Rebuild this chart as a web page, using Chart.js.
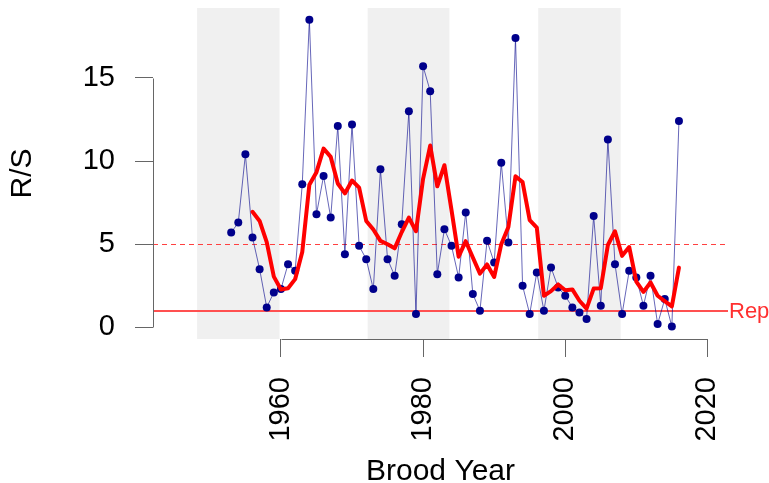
<!DOCTYPE html>
<html>
<head>
<meta charset="utf-8">
<script src="https://cdn.jsdelivr.net/npm/chart.js@4"></script>
<style>
  html, body { margin: 0; padding: 0; background: #fff; }
  #wrap { width: 769px; height: 483px; }
</style>
</head>
<body>
<div id="wrap"><canvas id="rsChart" width="769" height="483"></canvas></div>
<script>
// recruits per spawner by brood year
var broodYears = [1953, 1954, 1955, 1956, 1957, 1958, 1959, 1960, 1961, 1962,
                  1963, 1964, 1965, 1966, 1967, 1968, 1969, 1970, 1971, 1972,
                  1973, 1974, 1975, 1976, 1977, 1978, 1979, 1980, 1981, 1982,
                  1983, 1984, 1985, 1986, 1987, 1988, 1989, 1990, 1991, 1992,
                  1993, 1994, 1995, 1996, 1997, 1998, 1999, 2000, 2001, 2002,
                  2003, 2004, 2005, 2006, 2007, 2008, 2009, 2010, 2011, 2012,
                  2013, 2014, 2015, 2016];
var rsValues = [5.7, 6.3, 10.4, 5.4, 3.5, 1.2, 2.1, 2.3, 3.8, 3.4,
                8.6, 18.5, 6.8, 9.1, 6.6, 12.1, 4.4, 12.2, 4.9, 4.1,
                2.3, 9.5, 4.1, 3.1, 6.2, 13.0, 0.8, 15.7, 14.2, 3.2,
                5.9, 4.9, 3.0, 6.9, 2.0, 1.0, 5.2, 3.9, 9.9, 5.1,
                17.4, 2.5, 0.8, 3.3, 1.0, 3.6, 2.4, 1.9, 1.2, 0.9,
                0.5, 6.7, 1.3, 11.3, 3.8, 0.8, 3.4, 3.0, 1.3, 3.1,
                0.2, 1.7, 0.05, 12.4];

// 4-yr running average, starts 1956
var avgYears = broodYears.slice(3);
var avgValues = [6.95, 6.4, 5.13, 3.05, 2.28, 2.35, 2.9, 4.53, 8.58, 9.33,
                 10.75, 10.25, 8.65, 8.05, 8.83, 8.4, 6.4, 5.88, 5.2, 5.0,
                 4.75, 5.73, 6.6, 5.78, 8.93, 10.93, 8.48, 9.75, 7.05, 4.25,
                 5.18, 4.2, 3.23, 3.78, 3.03, 5.0, 6.03, 9.08, 8.73, 6.45,
                 6.0, 1.9, 2.18, 2.58, 2.23, 2.28, 1.6, 1.13, 2.33, 2.35,
                 4.95, 5.78, 4.3, 4.83, 2.75, 2.13, 2.7, 1.9, 1.58, 1.26,
                 3.59];

var yearTicks = [1960, 1980, 2000, 2020];
var rsTicks = [0, 5, 10, 15];

// shaded periods
var shadeStart = [1948.2, 1972.2, 1996.2];
var shadeEnd = [1959.8, 1983.7, 2007.8];

var repLevel = 1;
var guideLevel = 5;

var fontFamily = '"Liberation Sans", Arial, sans-serif';
Chart.defaults.font.family = fontFamily;

function toPoints(xs, ys) {
    return xs.map(function(x, i) { return { x: x, y: ys[i] }; });
}

var backdrop = {
    id: 'backdrop',
    beforeDatasetsDraw: function(chart) {
        var ctx = chart.ctx;
        var area = chart.chartArea;
        var xs = chart.scales.x, ys = chart.scales.y;
        ctx.save();
        ctx.fillStyle = '#f0f0f0';
        for (var i = 0; i < shadeStart.length; i++) {
            var x0 = xs.getPixelForValue(shadeStart[i]);
            var x1 = xs.getPixelForValue(shadeEnd[i]);
            ctx.fillRect(x0, area.top, x1 - x0, area.bottom - area.top);
        }
        ctx.strokeStyle = '#ff4040';
        ctx.lineWidth = 1;
        ctx.setLineDash([5, 4]);
        var yg = Math.round(ys.getPixelForValue(guideLevel)) + 0.5;
        ctx.beginPath();
        ctx.moveTo(area.left, yg);
        ctx.lineTo(area.right, yg);
        ctx.stroke();
        ctx.setLineDash([]);
        ctx.strokeStyle = '#ff5050';
        ctx.lineWidth = 2;
        var yr = Math.round(ys.getPixelForValue(repLevel));
        ctx.beginPath();
        ctx.moveTo(area.left, yr);
        ctx.lineTo(area.right, yr);
        ctx.stroke();
        ctx.restore();
    },
    afterDraw: function(chart) {
        var ctx = chart.ctx;
        var area = chart.chartArea;
        var xs = chart.scales.x, ys = chart.scales.y;
        ctx.save();
        // axis lines only span the tick range
        ctx.strokeStyle = '#666';
        ctx.lineWidth = 1;
        ctx.beginPath();
        var ax = Math.round(area.left) + 0.5;
        ctx.moveTo(ax, Math.round(ys.getPixelForValue(rsTicks[0])) + 0.5);
        ctx.lineTo(ax, Math.round(ys.getPixelForValue(rsTicks[rsTicks.length - 1])) + 0.5);
        var ay = Math.round(area.bottom) + 0.5;
        ctx.moveTo(Math.round(xs.getPixelForValue(yearTicks[0])) + 0.5, ay);
        ctx.lineTo(Math.round(xs.getPixelForValue(yearTicks[yearTicks.length - 1])) + 0.5, ay);
        ctx.stroke();
        // replacement label
        ctx.fillStyle = '#ff3030';
        ctx.font = '22px ' + fontFamily;
        ctx.textAlign = 'left';
        ctx.textBaseline = 'middle';
        ctx.fillText('Rep', area.right + 1, ys.getPixelForValue(repLevel) + 1);
        ctx.restore();
    }
};

var ctxRS = document.getElementById('rsChart').getContext('2d');

var rsChart = new Chart(ctxRS, {
    type: 'line',
    data: {
        datasets: [{
            label: '4-yr average',
            data: toPoints(avgYears, avgValues),
            borderColor: '#ff0000',
            borderWidth: 4,
            borderJoinStyle: 'round',
            borderCapStyle: 'round',
            pointRadius: 0,
            tension: 0,
            order: 0
        }, {
            label: 'R/S',
            data: toPoints(broodYears, rsValues),
            borderColor: 'rgba(0, 0, 139, 0.6)',
            borderWidth: 1,
            pointRadius: 4,
            pointBackgroundColor: '#00008b',
            pointBorderWidth: 0,
            tension: 0,
            order: 1
        }]
    },
    options: {
        responsive: false,
        animation: false,
        events: [],
        layout: {
            padding: { left: 0, right: 41, top: 8, bottom: 0 }
        },
        scales: {
            x: {
                type: 'linear',
                min: 1942,
                max: 2022.9,
                afterBuildTicks: function(scale) {
                    scale.ticks = yearTicks.map(function(v) { return { value: v }; });
                },
                afterFit: function(scale) {
                    scale.height = 144;
                    scale.paddingLeft = 0;
                    scale.paddingRight = 0;
                },
                border: { display: false },
                grid: { drawOnChartArea: false, tickLength: 18, color: '#666', lineWidth: 1 },
                ticks: {
                    autoSkip: false,
                    minRotation: 90,
                    maxRotation: 90,
                    padding: 20,
                    color: '#000',
                    font: { size: 29 },
                    callback: function(v) { return String(v); }
                },
                title: {
                    display: true,
                    text: 'Brood Year',
                    color: '#000',
                    font: { size: 30, lineHeight: 0.75 },
                    padding: { top: 0, bottom: 0 }
                }
            },
            y: {
                min: -0.7,
                max: 19.2,
                afterBuildTicks: function(scale) {
                    scale.ticks = rsTicks.map(function(v) { return { value: v }; });
                },
                afterFit: function(scale) {
                    scale.width = 153;
                    scale.paddingTop = 0;
                    scale.paddingBottom = 0;
                },
                border: { display: false },
                grid: { drawOnChartArea: false, tickLength: 18, color: '#666', lineWidth: 1 },
                ticks: {
                    padding: 20,
                    color: '#000',
                    font: { size: 29 }
                },
                title: {
                    display: true,
                    text: 'R/S',
                    color: '#000',
                    font: { size: 30, lineHeight: 1 },
                    padding: { top: 8, bottom: 0 }
                }
            }
        },
        plugins: {
            legend: { display: false },
            tooltip: { enabled: false }
        }
    },
    plugins: [backdrop]
});
</script>
</body>
</html>
